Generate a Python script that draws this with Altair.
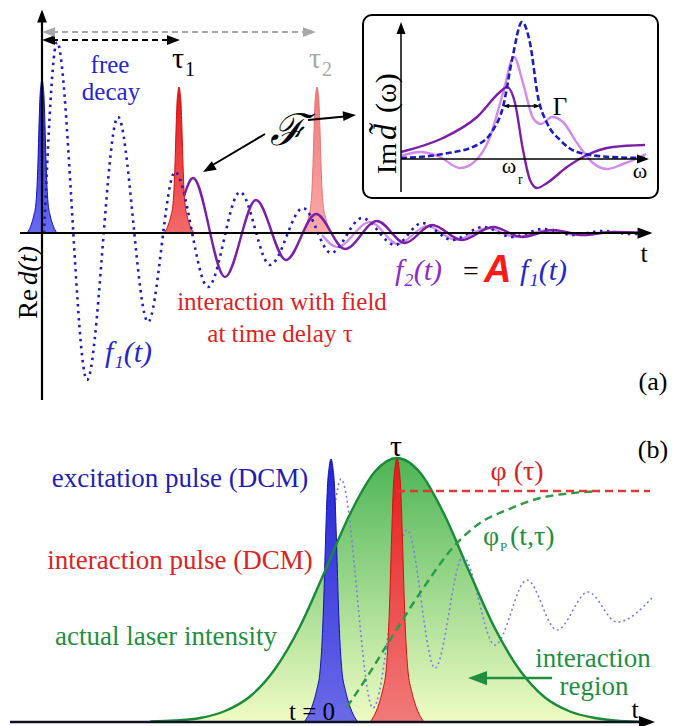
import altair as alt
import pandas as pd

W, H = 687, 726

# ---------------- panel (a): time-domain signals (figure units, y downwards) -------------
A_BASE = 233
F1_X = [44, 57, 87, 118, 148, 175, 208, 240, 270, 303, 331, 362, 395, 422, 452, 483, 512, 543, 573, 603, 632, 648]
F1_Y = [233, 42, 380, 117, 322, 172, 287, 192, 265, 208, 253, 218, 245, 223, 240, 227, 237, 229, 235, 231, 234, 233]
F2A_X = [184, 193, 225, 256, 286, 316, 345, 377, 405, 432, 462, 493, 522, 553, 583, 613, 645]
F2A_Y = [196, 178, 277, 200, 260, 214, 249, 221, 243, 225, 240, 227, 237, 230, 235, 232, 233]
F2B_X = [322, 337, 370, 398, 427, 456, 487, 516, 547, 577, 607, 645]
F2B_Y = [235, 247, 222, 244, 226, 240, 228, 237, 230, 235, 232, 233]

# pulse shape (relative height vs offset)
PROFILE_DX = [-15, -13, -10, -8, -6, -5, -4, -3, -2, -1, 0, 1, 2, 3, 4, 5, 6, 8, 10, 13, 15]
PROFILE_REL = [0, 0.02, 0.07, 0.12, 0.2, 0.3, 0.47, 0.7, 0.89, 0.97, 1,
               0.97, 0.89, 0.7, 0.47, 0.3, 0.2, 0.12, 0.07, 0.02, 0]
PULSE_A_X = [42, 179, 317]
PULSE_A_PEAK = [80, 87, 87]

# ---------------- inset: Im d(omega) ---------------------------------------------------
INS_BASE = 159
LOR_X = [401, 443, 477, 493, 503, 512, 522, 530, 538, 547, 560, 577, 610, 645]
LOR_Y = [158, 154, 145, 130, 107, 60, 22, 43, 97, 123, 140, 152, 157, 158]
LP_X = [401, 420, 440, 460, 473, 490, 503, 514, 523, 533, 541, 552, 563, 577, 593, 607, 623, 640, 646]
LP_Y = [156, 152, 157, 168, 163, 137, 93, 57, 83, 118, 124, 117, 122, 143, 163, 169, 164, 157, 154]
DP_X = [401, 443, 477, 500, 507, 515, 523, 530, 537, 547, 567, 587, 613, 645]
DP_Y = [152, 138, 117, 92, 87, 103, 150, 180, 188, 183, 167, 155, 147, 145]

# ---------------- panel (b) --------------------------------------------------------------
B_BASE = 722
GAUSS_X = [150, 175, 200, 225, 250, 275, 300, 325, 350, 375, 397, 420, 445, 470, 495, 520, 545, 570, 595, 620, 645]
GAUSS_Y = [721.5, 720.5, 718, 711, 696.5, 669, 626.5, 571, 514, 471.5, 458, 472.5, 516, 573.5, 628.5,
           670.5, 697.5, 711.5, 718, 721, 722]
OSC_X = [335, 341, 373, 407, 435, 463, 495, 527, 557, 588, 617, 652]
OSC_Y = [505, 479, 708, 530, 668, 557, 645, 580, 630, 592, 622, 598]
PHI_X = [347, 367, 390, 420, 457, 480, 507, 540, 573, 600]
PHI_Y = [707, 677, 640, 593, 543, 523, 510, 498, 493, 491]
PULSE_B_X = [331, 397]
PULSE_B_PEAK = [459, 458]

SERIF = "Liberation Serif"
BLUE = "#1c1cc0"
PURPLE = "#7b1fa8"
LPURPLE = "#d38bea"
RED = "#d92424"
GREEN = "#1f8f3f"

XS = alt.Scale(domain=[0, W], nice=False, zero=False)
YS = alt.Scale(domain=[0, H], nice=False, zero=False, reverse=True)


def X():
    return alt.X("x:Q", scale=XS, axis=None)


def Y():
    return alt.Y("y:Q", scale=YS, axis=None)


def grad(top, bottom):
    return alt.Gradient(gradient="linear",
                        stops=[alt.GradientStop(color=top, offset=0),
                               alt.GradientStop(color=bottom, offset=1)],
                        x1=1, x2=1, y1=0, y2=1)


layers = []


def add_line(xs, ys, color, width, dash=None, interp="monotone", cap="butt", opacity=1.0):
    df = pd.DataFrame({"x": xs, "y": ys})
    props = dict(color=color, strokeWidth=width, interpolate=interp, strokeCap=cap, opacity=opacity)
    if dash is not None:
        props["strokeDash"] = dash
    layers.append(alt.Chart(df).mark_line(**props).encode(x=X(), y=Y()))


def add_pulse(cx, peak, base, scale, top, bottom, edge):
    xs = [cx + d * scale for d in PROFILE_DX]
    ys = [base - (base - peak) * r for r in PROFILE_REL]
    df = pd.DataFrame({"x": xs, "y": ys, "y2": [base] * len(xs)})
    layers.append(alt.Chart(df).mark_area(
        color=grad(top, bottom), interpolate="monotone", opacity=1,
        line=alt.OverlayMarkDef(color=edge, strokeWidth=1)
    ).encode(x=X(), y=Y(), y2=alt.Y2("y2:Q")))


def add_rules(rows, dash=None):
    df = pd.DataFrame(rows, columns=["x", "y", "x2", "y2", "c", "w"])
    props = {}
    if dash is not None:
        props["strokeDash"] = dash
    layers.append(alt.Chart(df).mark_rule(**props).encode(
        x=X(), y=Y(), x2=alt.X2("x2:Q"), y2=alt.Y2("y2:Q"),
        color=alt.Color("c:N", scale=None), strokeWidth=alt.StrokeWidth("w:Q", scale=None)))


def add_text(text, x, y, size, color="black", style="normal", weight="normal",
             align="center", angle=0, font=SERIF):
    df = pd.DataFrame({"x": [x], "y": [y], "t": [text]})
    layers.append(alt.Chart(df).mark_text(
        font=font, fontSize=size, fontStyle=style, fontWeight=weight, color=color,
        align=align, baseline="alphabetic", angle=angle
    ).encode(x=X(), y=Y(), text="t:N"))


# ---------- panel (b) background (green intensity) ----------
layers.append(alt.Chart(pd.DataFrame({"x": GAUSS_X, "y": GAUSS_Y, "y2": [B_BASE] * len(GAUSS_X)}))
              .mark_area(color=grad("#4cb556", "#effcc4"), interpolate="monotone", opacity=1)
              .encode(x=X(), y=Y(), y2=alt.Y2("y2:Q")))
add_line(OSC_X, OSC_Y, "#7b7be6", 1.6, dash=[2, 3])

# ---------- inset box ----------
layers.append(alt.Chart(pd.DataFrame({"x": [363], "x2": [658], "y": [15], "y2": [198]}))
              .mark_rect(cornerRadius=9, fill="white", stroke="black", strokeWidth=2)
              .encode(x=X(), x2=alt.X2("x2:Q"), y=Y(), y2=alt.Y2("y2:Q")))

# ---------- pulses ----------
add_pulse(PULSE_A_X[0], PULSE_A_PEAK[0], A_BASE, 1.0, "#1a1ad2", "#6a6af2", "#1010b8")
add_pulse(PULSE_A_X[1], PULSE_A_PEAK[1], A_BASE, 1.0, "#e81414", "#f36a6a", "#d01010")
add_pulse(PULSE_A_X[2], PULSE_A_PEAK[2], A_BASE, 1.0, "#f07a7a", "#f9aaaa", "#ec7070")
add_pulse(PULSE_B_X[0], PULSE_B_PEAK[0], B_BASE, 1.8, "#2424d8", "#6a6ae8", "#1010b0")
add_pulse(PULSE_B_X[1], PULSE_B_PEAK[1], B_BASE, 1.8, "#e61a1a", "#f27a7a", "#d01010")

# ---------- panel (a) curves ----------
add_line(F2B_X, F2B_Y, LPURPLE, 2.2)
add_line(F1_X, F1_Y, BLUE, 2.6, dash=[2.5, 4.5])
add_line(F2A_X, F2A_Y, PURPLE, 2.4)

# ---------- inset curves ----------
add_line(LP_X, LP_Y, LPURPLE, 2.4)
add_line(DP_X, DP_Y, PURPLE, 2.4)
add_line(LOR_X, LOR_Y, BLUE, 2.6, dash=[6, 3])

# ---------- panel (b) curves ----------
add_line(GAUSS_X, GAUSS_Y, "#1a8a38", 2.4)
add_line(PHI_X, PHI_Y, "#2a9a45", 2.4, dash=[8, 5])

# ---------- axes, rules ----------
add_rules([
    (42, 400, 42, 18, "black", 2.2),
    (20, A_BASE, 642, A_BASE, "black", 2.2),
    (401, 192, 401, 27, "black", 1.5),
    (401, INS_BASE, 643, INS_BASE, "black", 1.5),
    (507, 106, 536, 106, "black", 1.5),
    (265, 134, 211, 166, "black", 2.0),
    (308, 120, 350, 116, "black", 2.0),
    (10, B_BASE, 645, B_BASE, "#101020", 2.6),
    (552, 678, 480, 678, GREEN, 2.5),
])
add_rules([(52, 40, 172, 40, "black", 2.0)], dash=[6, 4])
add_rules([(52, 32, 308, 32, "#a8a8a8", 2.0)], dash=[6, 4])
add_rules([(397, 491, 650, 491, "#e03838", 2.4)], dash=[8, 5])

ARROW = "M1,0L-1,-0.75L-1,0.75Z"
heads = pd.DataFrame([
    (42, 16, 270, 169, "black"),
    (645, A_BASE, 0, 225, "black"),
    (48.5, 40, 180, 169, "black"),
    (173.5, 40, 0, 169, "black"),
    (48.5, 32, 180, 169, "#a8a8a8"),
    (309.5, 32, 0, 169, "#a8a8a8"),
    (208.6, 168.8, 150, 169, "black"),
    (349.5, 115.6, 355, 169, "black"),
    (401, 28, 270, 144, "black"),
    (643, INS_BASE, 0, 144, "black"),
    (506, 106, 180, 40, "black"),
    (537, 106, 0, 40, "black"),
    (647, B_BASE, 0, 256, "black"),
    (477.5, 678, 180, 361, GREEN),
], columns=["x", "y", "a", "s", "c"])
layers.append(alt.Chart(heads).mark_point(shape=ARROW, filled=True, opacity=1, strokeWidth=0).encode(
    x=X(), y=Y(), angle=alt.Angle("a:Q", scale=None), size=alt.Size("s:Q", scale=None),
    color=alt.Color("c:N", scale=None)))

# ---------- texts: panel (a) ----------
add_text("free", 110, 73, 25, "#2626cc")
add_text("decay", 111, 100, 25, "#2626cc")
add_text("τ", 178, 68, 30)
add_text("1", 185, 76, 20, align="left")
add_text("τ", 315, 68, 30, "#a8a8a8")
add_text("2", 322, 76, 20, "#a8a8a8", align="left")
add_text("ℱ", 288, 145, 44, style="italic", font="DejaVu Serif")
add_text("Re", 37, 319, 27, angle=270, align="left")
add_text("d(t)", 37, 285, 27, style="italic", angle=270, align="left")
add_text("f₁(t)", 105, 362, 30, "#2626cc", style="italic", align="left")
add_text("interaction with field", 282, 310, 25, RED)
add_text("at time delay τ", 280, 342, 25, RED)
add_text("f₂(t)", 395, 280, 30, "#8e2cc8", style="italic", align="left")
add_text("=", 463, 280, 28, align="left")
add_text("A", 484, 282, 38, "#ff1a1a", style="italic", weight="bold", align="left", font="Liberation Sans")
add_text("f₁(t)", 520, 280, 30, "#2626cc", style="italic", align="left")
add_text("t", 644, 262, 26)
add_text("(a)", 653, 390, 26)

# ---------- texts: inset ----------
add_text("Im", 396, 174, 28, angle=270, align="left")
add_text("d̃", 396, 140, 32, style="italic", angle=270, align="left")
add_text("(ω)", 396, 113, 30, angle=270, align="left")
add_text("Γ", 560, 115, 25)
add_text("ω", 509, 173, 22)
add_text("r", 518, 184, 14, align="left")
add_text("ω", 640, 178, 22)

# ---------- texts: panel (b) ----------
add_text("excitation pulse (DCM)", 180, 487, 27, "#1e1eb4")
add_text("interaction pulse (DCM)", 180, 569, 27, RED)
add_text("actual laser intensity", 166, 645, 27, GREEN)
add_text("t = 0", 312, 720, 25)
add_text("τ", 396, 456, 30)
add_text("(b)", 653, 458, 26)
add_text("φ (τ)", 517, 480, 28, RED)
add_text("φ", 491, 545, 28, GREEN)
add_text("P", 500, 551, 13, GREEN, align="left")
add_text("(t,τ)", 510, 545, 28, GREEN, align="left")
add_text("interaction", 593, 667, 27, GREEN)
add_text("region", 594, 695, 27, GREEN)
add_text("t", 635, 718, 26)

chart = alt.layer(*layers).properties(
    width=W, height=H, padding=0,
    autosize=alt.AutoSizeParams(type="none"), background="white"
).configure_view(stroke=None)

chart.save("out.html", embed_options={"renderer": "svg", "actions": False})
